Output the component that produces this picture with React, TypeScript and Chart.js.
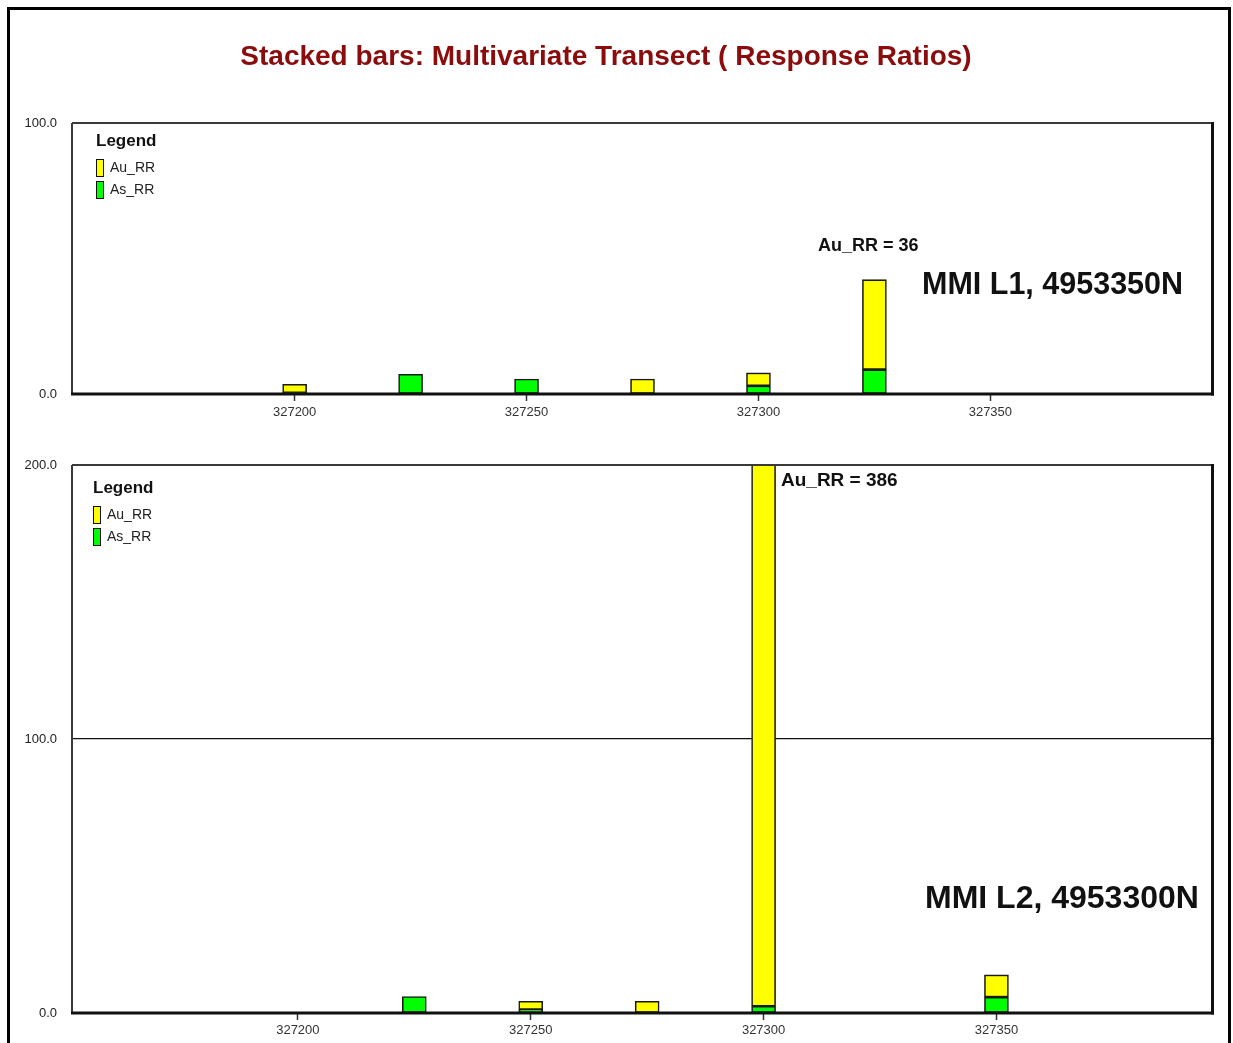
import React, { useEffect, useRef } from 'react';
import { Chart, registerables } from 'chart.js';

Chart.register(...registerables);

const FONT = "'Liberation Sans', Arial, Helvetica, sans-serif";
const TITLE = 'Stacked bars: Multivariate Transect ( Response Ratios)';
const X_TICKS = [327200, 327250, 327300, 327350];

// Panel 1 — MMI L1, 4953350N
const L1_EASTING = [327200, 327225, 327250, 327275, 327300, 327325];
const L1_AS_RR = [0.5, 7.3, 5.5, 0, 3.0, 9.0];
const L1_AU_RR = [3.1, 0, 0, 5.5, 4.8, 33.2];
const L1_Y_TICKS = [0, 100];

// Panel 2 — MMI L2, 4953300N
const L2_EASTING = [327225, 327250, 327275, 327300, 327350];
const L2_AS_RR = [6.0, 1.3, 0, 2.5, 5.8];
const L2_AU_RR = [0, 3.0, 4.3, 386, 8.1];
const L2_Y_TICKS = [0, 100, 200];

const W = 1233;
const H = 1043;
const Y_AXIS_W = 60;
const X_AXIS_H = 30;

const frame = {
  id: 'frame',
  afterDraw(chart: any) {
    const { ctx, chartArea: a } = chart;
    const line = (x1: number, y1: number, x2: number, y2: number) => {
      ctx.beginPath();
      ctx.moveTo(x1, y1);
      ctx.lineTo(x2, y2);
      ctx.stroke();
    };
    ctx.save();
    ctx.strokeStyle = '#3a3a3a';
    ctx.lineWidth = 2;
    line(a.left, a.top, a.right, a.top);
    line(a.left, a.top, a.left, a.bottom);
    ctx.strokeStyle = '#111';
    ctx.lineWidth = 3;
    line(a.right - 0.5, a.top - 1, a.right - 0.5, a.bottom + 1.5);
    line(a.left - 1, a.bottom, a.right + 1, a.bottom);
    ctx.restore();
  },
};

function makeConfig(p: {
  east: number[];
  as: number[];
  au: number[];
  yTicks: number[];
  xMin: number;
  xMax: number;
  area: { left: number; top: number; right: number; bottom: number };
  grid100: boolean;
  tickPad: number;
}): any {
  const barStyle = {
    borderColor: '#1a1a1a',
    borderWidth: 1.6,
    borderSkipped: false,
    barThickness: 24,
  };
  return {
    type: 'bar',
    data: {
      datasets: [
        {
          label: 'As_RR',
          data: p.east.map((x, i) => ({ x, y: p.as[i] })),
          backgroundColor: '#00ff00',
          ...barStyle,
        },
        {
          label: 'Au_RR',
          data: p.east.map((x, i) => ({ x, y: p.au[i] })),
          backgroundColor: '#ffff00',
          ...barStyle,
        },
      ],
    },
    options: {
      responsive: false,
      animation: false,
      events: [],
      devicePixelRatio: 1,
      layout: {
        padding: {
          left: p.area.left - Y_AXIS_W,
          top: p.area.top,
          right: W - p.area.right,
          bottom: H - p.area.bottom - X_AXIS_H,
        },
      },
      plugins: {
        legend: { display: false },
        tooltip: { enabled: false },
        title: { display: false },
      },
      scales: {
        x: {
          type: 'linear',
          stacked: true,
          min: p.xMin,
          max: p.xMax,
          offset: false,
          afterBuildTicks: (s: any) => {
            s.ticks = X_TICKS.map((v) => ({ value: v }));
          },
          afterFit: (s: any) => {
            s.height = X_AXIS_H;
          },
          grid: {
            offset: false,
            drawOnChartArea: false,
            drawTicks: true,
            tickLength: 7,
            tickColor: '#333',
            tickWidth: 1.5,
          },
          border: { display: false },
          ticks: {
            padding: p.tickPad,
            color: '#333',
            font: { family: FONT, size: 13 },
            maxRotation: 0,
            autoSkip: false,
            callback: (v: any) => String(v),
          },
        },
        y: {
          type: 'linear',
          stacked: true,
          min: 0,
          max: p.yTicks[p.yTicks.length - 1],
          afterBuildTicks: (s: any) => {
            s.ticks = p.yTicks.map((v) => ({ value: v }));
          },
          afterFit: (s: any) => {
            s.width = Y_AXIS_W;
          },
          grid: {
            drawTicks: false,
            color: (ctx: any) =>
              p.grid100 && ctx.tick && ctx.tick.value === 100 ? '#111' : 'rgba(0,0,0,0)',
            lineWidth: 1.2,
          },
          border: { display: false },
          ticks: {
            padding: 15,
            color: '#222',
            font: { family: FONT, size: 13 },
            callback: (v: any) => Number(v).toFixed(1),
          },
        },
      },
    },
    plugins: [frame],
  };
}

function Txt(props: {
  x: number;
  cy: number;
  size: number;
  bold?: boolean;
  color?: string;
  children: React.ReactNode;
}) {
  return (
    <div
      style={{
        position: 'absolute',
        left: props.x,
        top: props.cy - props.size * 0.49,
        fontFamily: FONT,
        fontSize: props.size,
        lineHeight: `${props.size}px`,
        fontWeight: props.bold ? 'bold' : 'normal',
        color: props.color || '#111',
        whiteSpace: 'nowrap',
      }}
    >
      {props.children}
    </div>
  );
}

function Legend(props: { x: number; y: number }) {
  const { x, y } = props;
  const box = (top: number, color: string) => (
    <div
      style={{
        position: 'absolute',
        left: x,
        top,
        width: 8,
        height: 18,
        boxSizing: 'border-box',
        border: '1.5px solid #111',
        background: color,
      }}
    />
  );
  return (
    <>
      <Txt x={x} cy={y} size={17} bold>
        Legend
      </Txt>
      {box(y + 19, '#ffff00')}
      <Txt x={x + 14} cy={y + 27} size={14} color="#222">
        Au_RR
      </Txt>
      {box(y + 41, '#00ff00')}
      <Txt x={x + 14} cy={y + 49} size={14} color="#222">
        As_RR
      </Txt>
    </>
  );
}

export default function App() {
  const c1 = useRef<HTMLCanvasElement>(null);
  const c2 = useRef<HTMLCanvasElement>(null);

  useEffect(() => {
    const ch1 = new Chart(
      c1.current as HTMLCanvasElement,
      makeConfig({
        east: L1_EASTING,
        as: L1_AS_RR,
        au: L1_AU_RR,
        yTicks: L1_Y_TICKS,
        xMin: 327152,
        xMax: 327398,
        area: { left: 72, top: 123, right: 1213, bottom: 394 },
        grid100: false,
        tickPad: 4,
      })
    );
    const ch2 = new Chart(
      c2.current as HTMLCanvasElement,
      makeConfig({
        east: L2_EASTING,
        as: L2_AS_RR,
        au: L2_AU_RR,
        yTicks: L2_Y_TICKS,
        xMin: 327151.5,
        xMax: 327396.5,
        area: { left: 72, top: 465, right: 1213, bottom: 1013 },
        grid100: true,
        tickPad: 3,
      })
    );
    return () => {
      ch1.destroy();
      ch2.destroy();
    };
  }, []);

  const canvasStyle: React.CSSProperties = { position: 'absolute', left: 0, top: 0 };

  return (
    <div
      style={{
        position: 'absolute',
        left: 0,
        top: 0,
        width: W,
        height: H,
        overflow: 'hidden',
        background: '#fff',
      }}
    >
      <div
        style={{
          position: 'absolute',
          left: 7,
          top: 7,
          width: 1224,
          height: 1100,
          boxSizing: 'border-box',
          border: '3px solid #000',
        }}
      />
      <canvas ref={c1} width={W} height={H} style={canvasStyle} />
      <canvas ref={c2} width={W} height={H} style={canvasStyle} />
      <div
        style={{
          position: 'absolute',
          left: 0,
          width: 1212,
          top: 56 - 28 * 0.49,
          textAlign: 'center',
          fontFamily: FONT,
          fontSize: 28,
          lineHeight: '28px',
          fontWeight: 'bold',
          color: '#8a0c0c',
          whiteSpace: 'nowrap',
        }}
      >
        {TITLE}
      </div>
      <Legend x={96} y={140} />
      <Legend x={93} y={487} />
      <Txt x={818} cy={245} size={18} bold>
        Au_RR = 36
      </Txt>
      <Txt x={922} cy={283} size={30.5} bold>
        MMI L1, 4953350N
      </Txt>
      <Txt x={781} cy={479} size={19} bold>
        Au_RR = 386
      </Txt>
      <Txt x={925} cy={897} size={32} bold>
        MMI L2, 4953300N
      </Txt>
    </div>
  );
}
